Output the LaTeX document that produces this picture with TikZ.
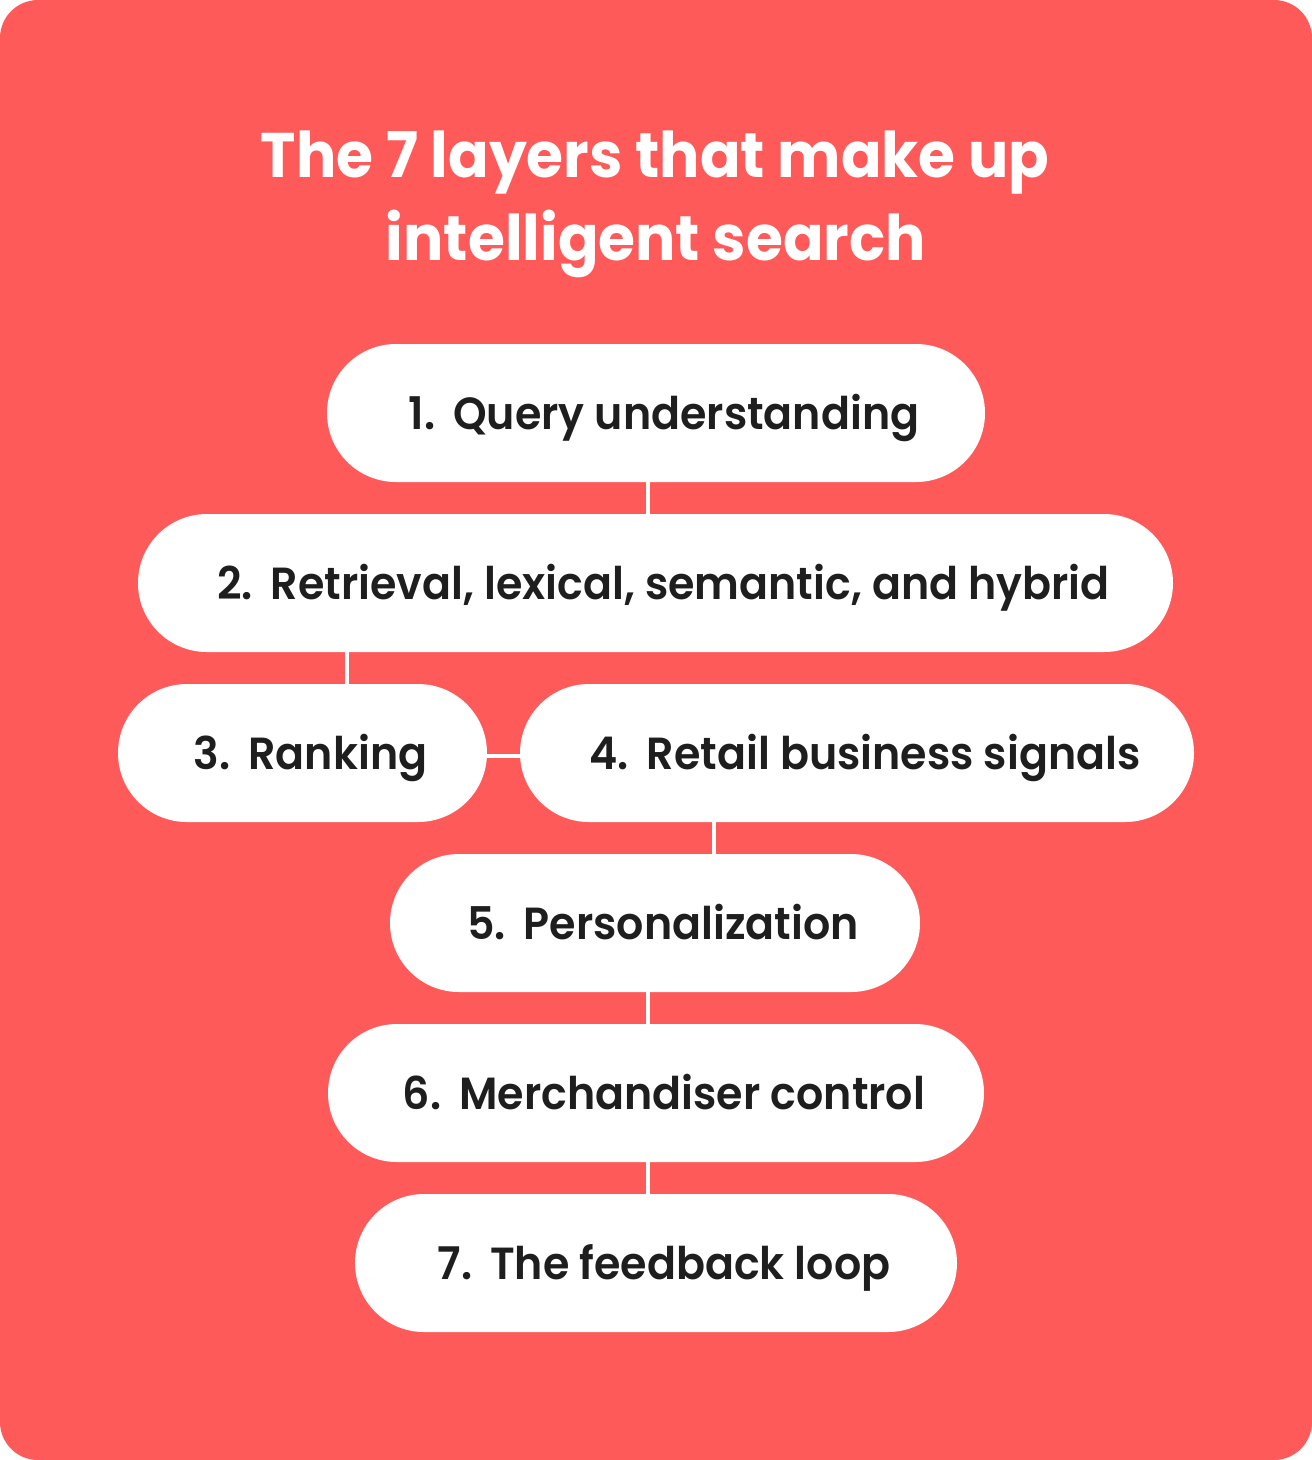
\documentclass[tikz,border=0pt]{standalone}
\usepackage{fontspec}
\newfontfamily\popsb{Poppins SemiBold}
\newfontfamily\popb{Poppins Bold}
\definecolor{bgred}{HTML}{FF5A5A}
\definecolor{txt}{HTML}{1E1E1E}
\newcommand{\lbl}[2]{\hspace{16pt}\scalebox{0.95}[1]{#1\hspace{19pt}#2}}
\newcommand{\ttl}[1]{\scalebox{0.95}[1]{#1}}
\tikzset{
  pill/.style={fill=white, rounded corners=69pt, minimum height=138pt, inner sep=0pt,
    text height=33pt, text depth=0pt, text=txt, font=\popsb\fontsize{45}{45}\selectfont},
  link/.style={draw=white, line width=4pt},
  titletext/.style={text=white, font=\popb\fontsize{63}{63}\selectfont, inner sep=0pt, anchor=base}
}
\begin{document}
\begin{tikzpicture}[x=1pt,y=-1pt]
\useasboundingbox (0,0) rectangle (1312,1460);
\fill[white] (0,0) rectangle (1312,1460);
\fill[bgred, rounded corners=38pt] (0,0) rectangle (1312,1460);
\node[titletext] (t1) at (655,177) {\ttl{The 7 layers that make up}};
\node[titletext] (t2) at (656,260) {\ttl{intelligent search}};
\coordinate (c12) at (648,498);
\coordinate (c23) at (347,668);
\coordinate (c34) at (503,756);
\coordinate (c45) at (714,838);
\coordinate (c56) at (648,1008);
\coordinate (c67) at (648,1178);
\node[pill, minimum width=658pt] (n1) at (656,413) {\lbl{1.}{Query understanding}};
\node[pill, minimum width=1035pt] (n2) at (655.5,583) {\lbl{2.}{Retrieval, lexical, semantic, and hybrid}};
\node[pill, minimum width=369pt] (n3) at (302.5,753) {\lbl{3.}{Ranking}};
\node[pill, minimum width=674pt] (n4) at (857,753) {\lbl{4.}{Retail business signals}};
\node[pill, minimum width=530pt] (n5) at (655,923) {\lbl{5.}{Personalization}};
\node[pill, minimum width=656pt] (n6) at (656,1093) {\lbl{6.}{Merchandiser control}};
\node[pill, minimum width=602pt] (n7) at (656,1263) {\lbl{7.}{The feedback loop}};
\draw[link] (c12 |- n1.south) -- (c12 |- n2.north);
\draw[link] (c23 |- n2.south) -- (c23 |- n3.north);
\draw[link] (n3.east |- c34) -- (n4.west |- c34);
\draw[link] (c45 |- n4.south) -- (c45 |- n5.north);
\draw[link] (c56 |- n5.south) -- (c56 |- n6.north);
\draw[link] (c67 |- n6.south) -- (c67 |- n7.north);
\end{tikzpicture}
\end{document}
